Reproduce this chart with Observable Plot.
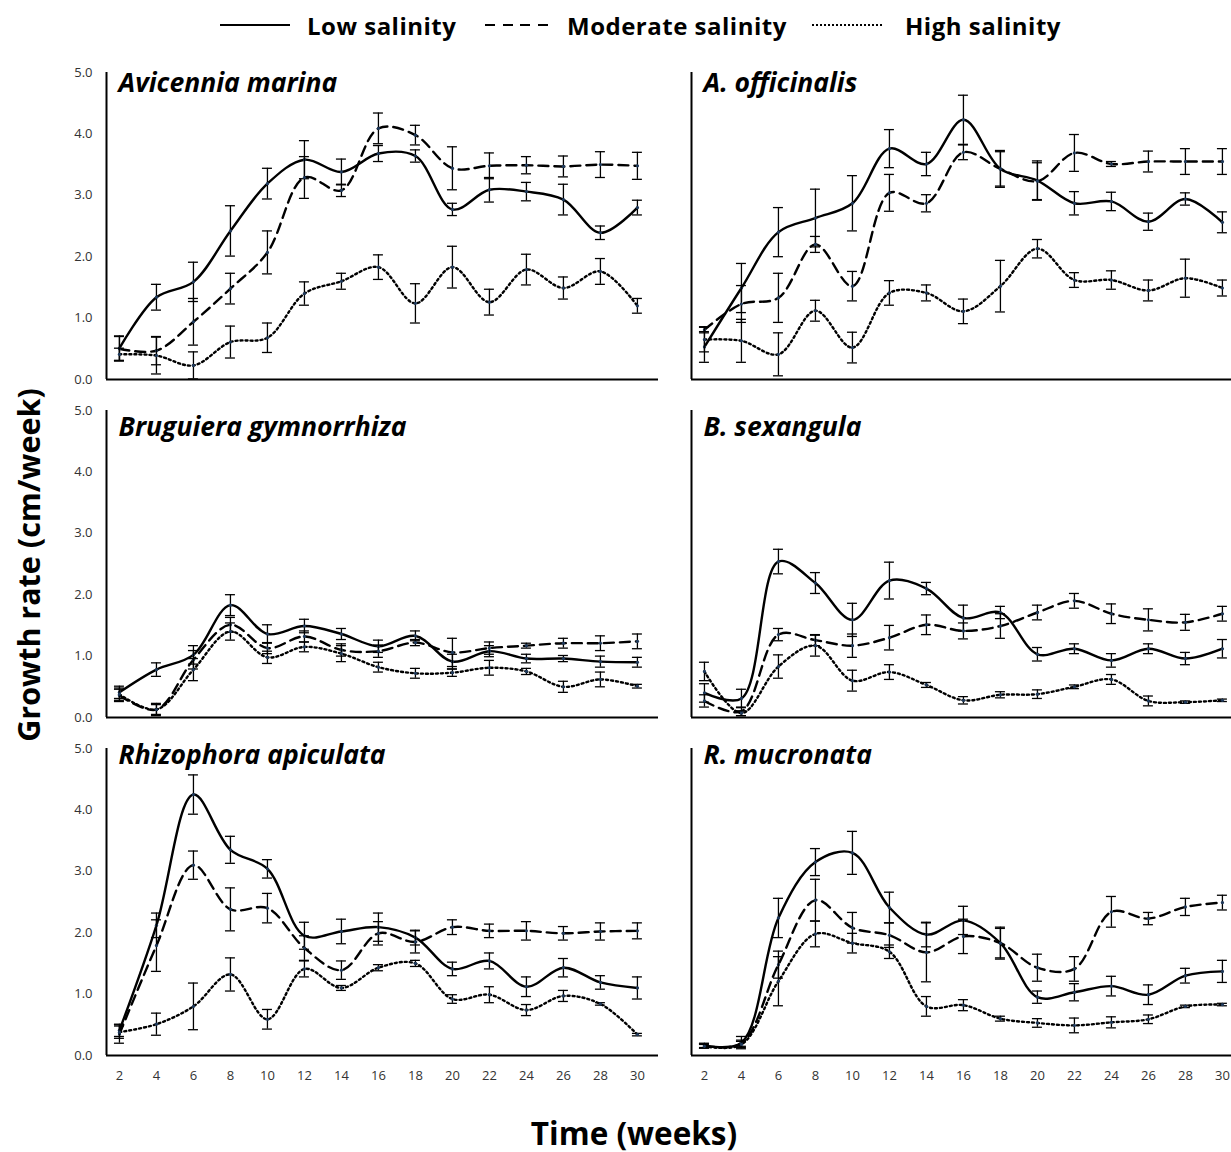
<!DOCTYPE html>
<html>
<head>
<meta charset="utf-8">
<script src="https://cdn.jsdelivr.net/npm/d3@7"></script>
<script src="https://cdn.jsdelivr.net/npm/@observablehq/plot@0.6"></script>
<style>
  html, body { margin: 0; padding: 0; background: #fff; overflow: hidden; width: 1231px; height: 1152px; }
  body { position: relative; font-family: "Open Sans", Lato, sans-serif; color: #000; }
  .abs { position: absolute; white-space: nowrap; line-height: 1; }
  .lt { font-weight: 700; font-size: 24px; letter-spacing: 0.5px; transform: translateY(-50%); top: 26px; }
  .sw { top: 24px; height: 2px; }
  #chart { position: absolute; left: 0; top: 50px; width: 1243px; }
  #chart svg { max-width: none !important; }
  #ytitle { left: 28px; top: 565px; font-weight: 700; font-size: 30.5px; transform: translate(-50%, -50%) rotate(-90deg); }
  #xtitle { left: 634px; top: 1133px; font-weight: 700; font-size: 31.5px; transform: translate(-50%, -50%); }
</style>
</head>
<body>
<div id="legend"></div>
<div id="chart"></div>
<div id="ytitle" class="abs">Growth rate (cm/week)</div>
<div id="xtitle" class="abs">Time (weeks)</div>
<script>
// ---------- data ----------
const weeks = [2, 4, 6, 8, 10, 12, 14, 16, 18, 20, 22, 24, 26, 28, 30];
const species = ["Avicennia marina", "A. officinalis", "Bruguiera gymnorrhiza", "B. sexangula", "Rhizophora apiculata", "R. mucronata"];
const salinity = ["Low salinity", "Moderate salinity", "High salinity"];
const yTicks = [0, 1, 2, 3, 4, 5];

// Avicennia marina
const amLow     = [0.51, 1.34, 1.59, 2.42, 3.19, 3.58, 3.38, 3.68, 3.64, 2.77, 3.09, 3.06, 2.93, 2.39, 2.80];
const amLowErr  = [0.20, 0.21, 0.32, 0.41, 0.25, 0.31, 0.21, 0.13, 0.10, 0.10, 0.20, 0.15, 0.25, 0.11, 0.12];
const amMod     = [0.50, 0.47, 0.94, 1.48, 2.07, 3.29, 3.08, 4.09, 3.98, 3.44, 3.48, 3.49, 3.47, 3.50, 3.48];
const amModErr  = [0.20, 0.23, 0.38, 0.25, 0.35, 0.34, 0.10, 0.25, 0.16, 0.35, 0.21, 0.14, 0.17, 0.21, 0.22];
const amHigh    = [0.41, 0.39, 0.23, 0.61, 0.68, 1.40, 1.60, 1.83, 1.24, 1.83, 1.26, 1.79, 1.49, 1.76, 1.20];
const amHighErr = [0.10, 0.30, 0.22, 0.26, 0.24, 0.19, 0.13, 0.20, 0.32, 0.34, 0.21, 0.25, 0.18, 0.21, 0.12];

// A. officinalis
const aoLow     = [0.53, 1.49, 2.40, 2.63, 2.87, 3.76, 3.51, 4.23, 3.43, 3.24, 2.87, 2.90, 2.57, 2.94, 2.56];
const aoLowErr  = [0.25, 0.40, 0.40, 0.47, 0.45, 0.31, 0.19, 0.40, 0.30, 0.32, 0.19, 0.15, 0.14, 0.10, 0.17];
const aoMod     = [0.81, 1.23, 1.33, 2.20, 1.52, 3.04, 2.87, 3.70, 3.43, 3.23, 3.69, 3.51, 3.55, 3.55, 3.55];
const aoModErr  = [0.05, 0.30, 0.40, 0.13, 0.24, 0.30, 0.14, 0.12, 0.28, 0.30, 0.30, 0.04, 0.17, 0.21, 0.21];
const aoHigh    = [0.65, 0.63, 0.41, 1.12, 0.52, 1.41, 1.41, 1.11, 1.52, 2.13, 1.62, 1.62, 1.45, 1.65, 1.49];
const aoHighErr = [0.20, 0.35, 0.35, 0.17, 0.25, 0.20, 0.13, 0.20, 0.42, 0.15, 0.12, 0.15, 0.17, 0.31, 0.13];

// Bruguiera gymnorrhiza
const bgLow     = [0.41, 0.78, 1.02, 1.83, 1.36, 1.49, 1.36, 1.16, 1.33, 0.91, 1.08, 0.96, 0.96, 0.91, 0.90];
const bgLowErr  = [0.10, 0.11, 0.15, 0.17, 0.15, 0.11, 0.09, 0.10, 0.08, 0.12, 0.09, 0.07, 0.05, 0.09, 0.08];
const bgMod     = [0.36, 0.13, 0.94, 1.51, 1.13, 1.32, 1.10, 1.08, 1.22, 1.06, 1.13, 1.17, 1.21, 1.21, 1.24];
const bgModErr  = [0.10, 0.10, 0.15, 0.12, 0.09, 0.09, 0.10, 0.10, 0.05, 0.23, 0.10, 0.04, 0.08, 0.12, 0.12];
const bgHigh    = [0.38, 0.13, 0.78, 1.40, 0.98, 1.15, 1.04, 0.82, 0.72, 0.73, 0.81, 0.75, 0.50, 0.62, 0.51];
const bgHighErr = [0.10, 0.08, 0.18, 0.14, 0.10, 0.08, 0.13, 0.08, 0.08, 0.06, 0.12, 0.05, 0.09, 0.12, 0.03];

// B. sexangula
const bsLow     = [0.40, 0.31, 2.54, 2.19, 1.59, 2.23, 2.10, 1.62, 1.71, 1.03, 1.12, 0.93, 1.12, 0.96, 1.12];
const bsLowErr  = [0.15, 0.15, 0.20, 0.17, 0.27, 0.30, 0.10, 0.21, 0.10, 0.11, 0.08, 0.11, 0.08, 0.10, 0.15];
const bsMod     = [0.27, 0.10, 1.35, 1.26, 1.17, 1.30, 1.51, 1.41, 1.49, 1.71, 1.90, 1.69, 1.59, 1.55, 1.69];
const bsModErr  = [0.10, 0.07, 0.10, 0.09, 0.19, 0.20, 0.16, 0.13, 0.20, 0.12, 0.12, 0.16, 0.18, 0.13, 0.12];
const bsHigh    = [0.75, 0.07, 0.83, 1.17, 0.60, 0.74, 0.53, 0.28, 0.37, 0.38, 0.50, 0.62, 0.27, 0.25, 0.28];
const bsHighErr = [0.15, 0.04, 0.19, 0.17, 0.17, 0.12, 0.04, 0.06, 0.05, 0.07, 0.03, 0.08, 0.08, 0.02, 0.02];

// Rhizophora apiculata
const raLow     = [0.41, 2.12, 4.25, 3.35, 3.04, 1.95, 2.02, 2.09, 1.92, 1.41, 1.54, 1.12, 1.43, 1.19, 1.10];
const raLowErr  = [0.10, 0.20, 0.32, 0.22, 0.15, 0.22, 0.20, 0.23, 0.12, 0.11, 0.13, 0.16, 0.15, 0.11, 0.18];
const raMod     = [0.35, 1.79, 3.10, 2.38, 2.40, 1.75, 1.39, 1.99, 1.85, 2.09, 2.03, 2.03, 1.99, 2.02, 2.03];
const raModErr  = [0.15, 0.42, 0.23, 0.35, 0.24, 0.20, 0.15, 0.19, 0.18, 0.12, 0.11, 0.15, 0.11, 0.14, 0.13];
const raHigh    = [0.38, 0.51, 0.80, 1.32, 0.59, 1.41, 1.10, 1.43, 1.50, 0.92, 0.99, 0.74, 0.97, 0.84, 0.34];
const raHighErr = [0.10, 0.18, 0.38, 0.27, 0.16, 0.13, 0.04, 0.05, 0.05, 0.07, 0.13, 0.09, 0.09, 0.02, 0.02];

// R. mucronata
const rmLow     = [0.16, 0.21, 2.24, 3.15, 3.30, 2.41, 1.97, 2.20, 1.83, 0.95, 1.03, 1.13, 0.99, 1.30, 1.37];
const rmLowErr  = [0.04, 0.10, 0.32, 0.22, 0.35, 0.25, 0.20, 0.23, 0.26, 0.10, 0.14, 0.16, 0.16, 0.12, 0.18];
const rmMod     = [0.16, 0.20, 1.48, 2.53, 2.08, 1.96, 1.68, 1.94, 1.83, 1.43, 1.41, 2.34, 2.23, 2.42, 2.49];
const rmModErr  = [0.03, 0.05, 0.22, 0.34, 0.25, 0.20, 0.48, 0.28, 0.24, 0.22, 0.20, 0.25, 0.10, 0.14, 0.12];
const rmHigh    = [0.15, 0.18, 1.21, 1.98, 1.83, 1.69, 0.80, 0.82, 0.60, 0.53, 0.49, 0.54, 0.59, 0.80, 0.83];
const rmHighErr = [0.03, 0.05, 0.40, 0.21, 0.16, 0.11, 0.16, 0.09, 0.04, 0.07, 0.12, 0.09, 0.07, 0.02, 0.02];

// ---------- tidy table ----------
const seriesBySpecies = [
  [[amLow, amLowErr], [amMod, amModErr], [amHigh, amHighErr]],
  [[aoLow, aoLowErr], [aoMod, aoModErr], [aoHigh, aoHighErr]],
  [[bgLow, bgLowErr], [bgMod, bgModErr], [bgHigh, bgHighErr]],
  [[bsLow, bsLowErr], [bsMod, bsModErr], [bsHigh, bsHighErr]],
  [[raLow, raLowErr], [raMod, raModErr], [raHigh, raHighErr]],
  [[rmLow, rmLowErr], [rmMod, rmModErr], [rmHigh, rmHighErr]]
];
const table = [];
species.forEach((name, i) => {
  seriesBySpecies[i].forEach(([vals, errs], s) => {
    weeks.forEach((w, k) => table.push({
      species: name, col: i % 2, row: Math.floor(i / 2),
      salinity: salinity[s], week: w, value: vals[k], err: errs[k]
    }));
  });
});
const titles = species.map((name, i) => ({species: name, col: i % 2, row: Math.floor(i / 2)}));

// ---------- styles ----------
const xDomain = [1.3, 31.14];
const lineStyle = {
  "Low salinity": {},
  "Moderate salinity": {strokeDasharray: "10,6"},
  "High salinity": {strokeDasharray: "2,3"}
};
const titleDy = [1, 7, -3];
const capHalf = 0.27;

// ---------- legend ----------
const legendPos = [
  {sw: [220, 70], txt: 307, bg: "#000"},
  {sw: [485, 63], txt: 567, bg: "repeating-linear-gradient(90deg, #000 0 10px, transparent 10px 17.7px)"},
  {sw: [812, 72], txt: 905, bg: "repeating-linear-gradient(90deg, #000 0 1.6px, transparent 1.6px 4px)"}
];
const legend = document.getElementById("legend");
salinity.forEach((label, i) => {
  const p = legendPos[i];
  const sw = document.createElement("div");
  sw.className = "abs sw";
  sw.style.left = p.sw[0] + "px";
  sw.style.width = p.sw[1] + "px";
  sw.style.background = p.bg;
  legend.appendChild(sw);
  const t = document.createElement("div");
  t.className = "abs lt";
  t.style.left = p.txt + "px";
  t.textContent = label;
  legend.appendChild(t);
});

// ---------- plot ----------
const marks = [
  Plot.ruleX([xDomain[0]], {stroke: "#000", strokeWidth: 2}),
  Plot.ruleY([0], {stroke: "#000", strokeWidth: 2})
];
salinity.forEach(s => {
  const f = d => d.salinity === s;
  marks.push(
    Plot.ruleX(table, {filter: f, fx: "col", fy: "row", x: "week", y1: d => d.value - d.err, y2: d => d.value + d.err, stroke: "#000", strokeWidth: 1.3}),
    Plot.ruleY(table, {filter: f, fx: "col", fy: "row", y: d => d.value - d.err, x1: d => d.week - capHalf, x2: d => d.week + capHalf, stroke: "#000", strokeWidth: 1.3}),
    Plot.ruleY(table, {filter: f, fx: "col", fy: "row", y: d => d.value + d.err, x1: d => d.week - capHalf, x2: d => d.week + capHalf, stroke: "#000", strokeWidth: 1.3}),
    Plot.line(table, {filter: f, fx: "col", fy: "row", x: "week", y: "value", curve: "catmull-rom", stroke: "#000", strokeWidth: 2.4, ...lineStyle[s]}),
    Plot.dot(table, {filter: f, fx: "col", fy: "row", x: "week", y: "value", r: 1.6, fill: "#1f3a5c", stroke: null})
  );
});
[0, 1, 2].forEach(r => {
  marks.push(Plot.text(titles, {
    filter: d => d.row === r, fx: "col", fy: "row", text: "species",
    frameAnchor: "top-left", textAnchor: "start", lineAnchor: "top",
    dx: 12, dy: titleDy[r], fontSize: 26.5, fontWeight: "bold", fontStyle: "italic",
    fontFamily: "'Open Sans', Lato, sans-serif", fill: "#000"
  }));
});

const chart = Plot.plot({
  width: 1243, height: 1040,
  marginLeft: 106, marginRight: 0, marginTop: 22, marginBottom: 35,
  style: {fontFamily: "'Open Sans', Lato, sans-serif", fontSize: "13px", color: "#333", background: "white", overflow: "visible", maxWidth: "none"},
  fx: {domain: [0, 1], axis: null, paddingInner: 33 / 585, paddingOuter: 0, round: false},
  fy: {domain: [0, 1, 2], axis: null, paddingInner: 31 / 338, paddingOuter: 0, round: false},
  x: {domain: xDomain, ticks: weeks, tickSize: 0, tickPadding: 15, label: null},
  y: {domain: [0, 5], ticks: yTicks, tickFormat: d => d.toFixed(1), tickSize: 0, tickPadding: 14, label: null},
  marks
});
document.getElementById("chart").appendChild(chart);
</script>
</body>
</html>
